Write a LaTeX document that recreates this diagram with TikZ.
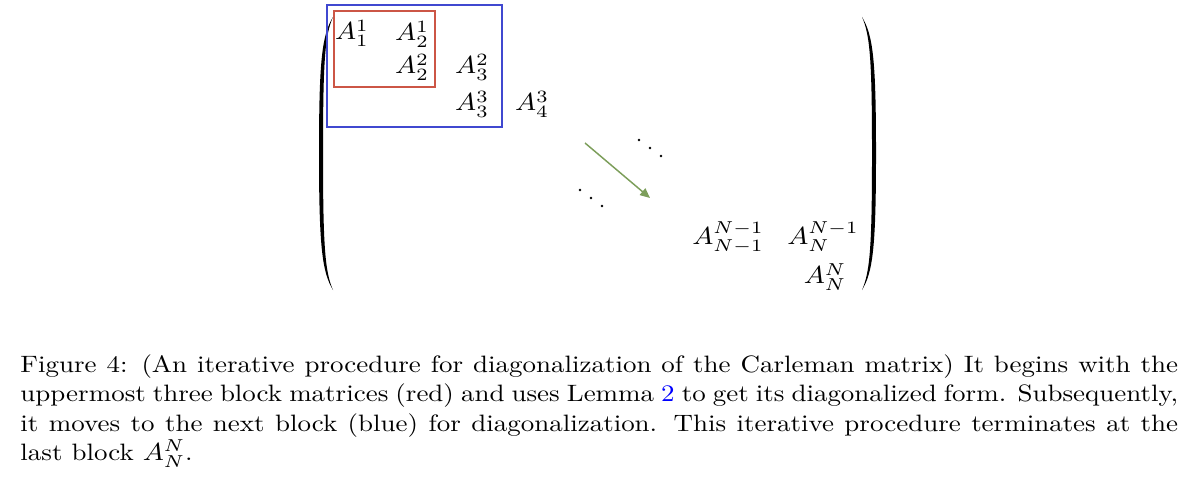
\documentclass[tikz,border=0pt]{standalone}
\usepackage{graphicx}
\usetikzlibrary{arrows.meta}
\definecolor{boxred}{RGB}{204,86,70}
\definecolor{boxblue}{RGB}{64,72,208}
\definecolor{arrowgreen}{RGB}{124,158,90}
\newcommand{\wide}[1]{\scalebox{1.14}[1]{#1}}
\tikzset{entry/.style={inner sep=0pt},
  block/.style={line width=0.5pt},
  paren/.style={fill=black},
  capt/.style={inner sep=0pt,anchor=base west}}

\begin{document}
\begin{tikzpicture}[x=0.405pt,y=-0.405pt]
    \useasboundingbox (0,0) rectangle (1200,491);
    \foreach \x/\s in {333/1,862/-1}
      \fill[paren,shift={(\x,0)},xscale=\s] (0,17) .. controls (-11,35) and (-14,60) .. (-14,153)
        .. controls (-14,246) and (-11,272) .. (0,290) .. controls (-8,272) and (-10,246) .. (-10,153)
        .. controls (-10,60) and (-8,35) .. cycle;
    \draw[block,boxblue] (327,5) rectangle (502,127);
    \draw[block,boxred] (334,11) rectangle (435,87);
    \node[entry] (a11) at (352,33) {\wide{$A^1_1$}};
    \node[entry] (a12) at (412,34) {\wide{$A^1_2$}};
    \node[entry] (a22) at (412,67) {\wide{$A^2_2$}};
    \node[entry] (a23) at (472,67) {\wide{$A^2_3$}};
    \node[entry] (a33) at (472,104) {\wide{$A^3_3$}};
    \node[entry] (a34) at (532,104) {\wide{$A^3_4$}};
    \node[entry] (aNN1) at (728,238) {\wide{$A^{N-1}_{N-1}$}};
    \node[entry] (aN1N) at (823,237) {\wide{$A^{N-1}_{N}$}};
    \node[entry] (aNN) at (825,277) {\wide{$A^{N}_{N}$}};
    \foreach \x/\y in {639/140,650/148,661/156,580/190,591/198,602/206}
      \fill (\x,\y) circle [radius=0.6pt];
    \coordinate (from) at (585,143);
    \coordinate (to) at (650,198);
    \draw[arrowgreen,line width=0.6pt,-{Triangle[length=4pt,width=3.5pt]}] (from) -- (to);
    \node[capt] (cap) at (20,372) {\scalebox{1.138}[1]{\parbox[t]{412pt}{\fontsize{9.6}{12}\selectfont
      Figure 4: (An iterative procedure for diagonalization of the Carleman matrix) It begins with the uppermost three block matrices (red) and uses Lemma \textcolor{blue}{2} to get its diagonalized form. Subsequently, it moves to the next block (blue) for diagonalization. This iterative procedure terminates at the last block $A_N^N$.}}};
  \end{tikzpicture}
\end{document}
